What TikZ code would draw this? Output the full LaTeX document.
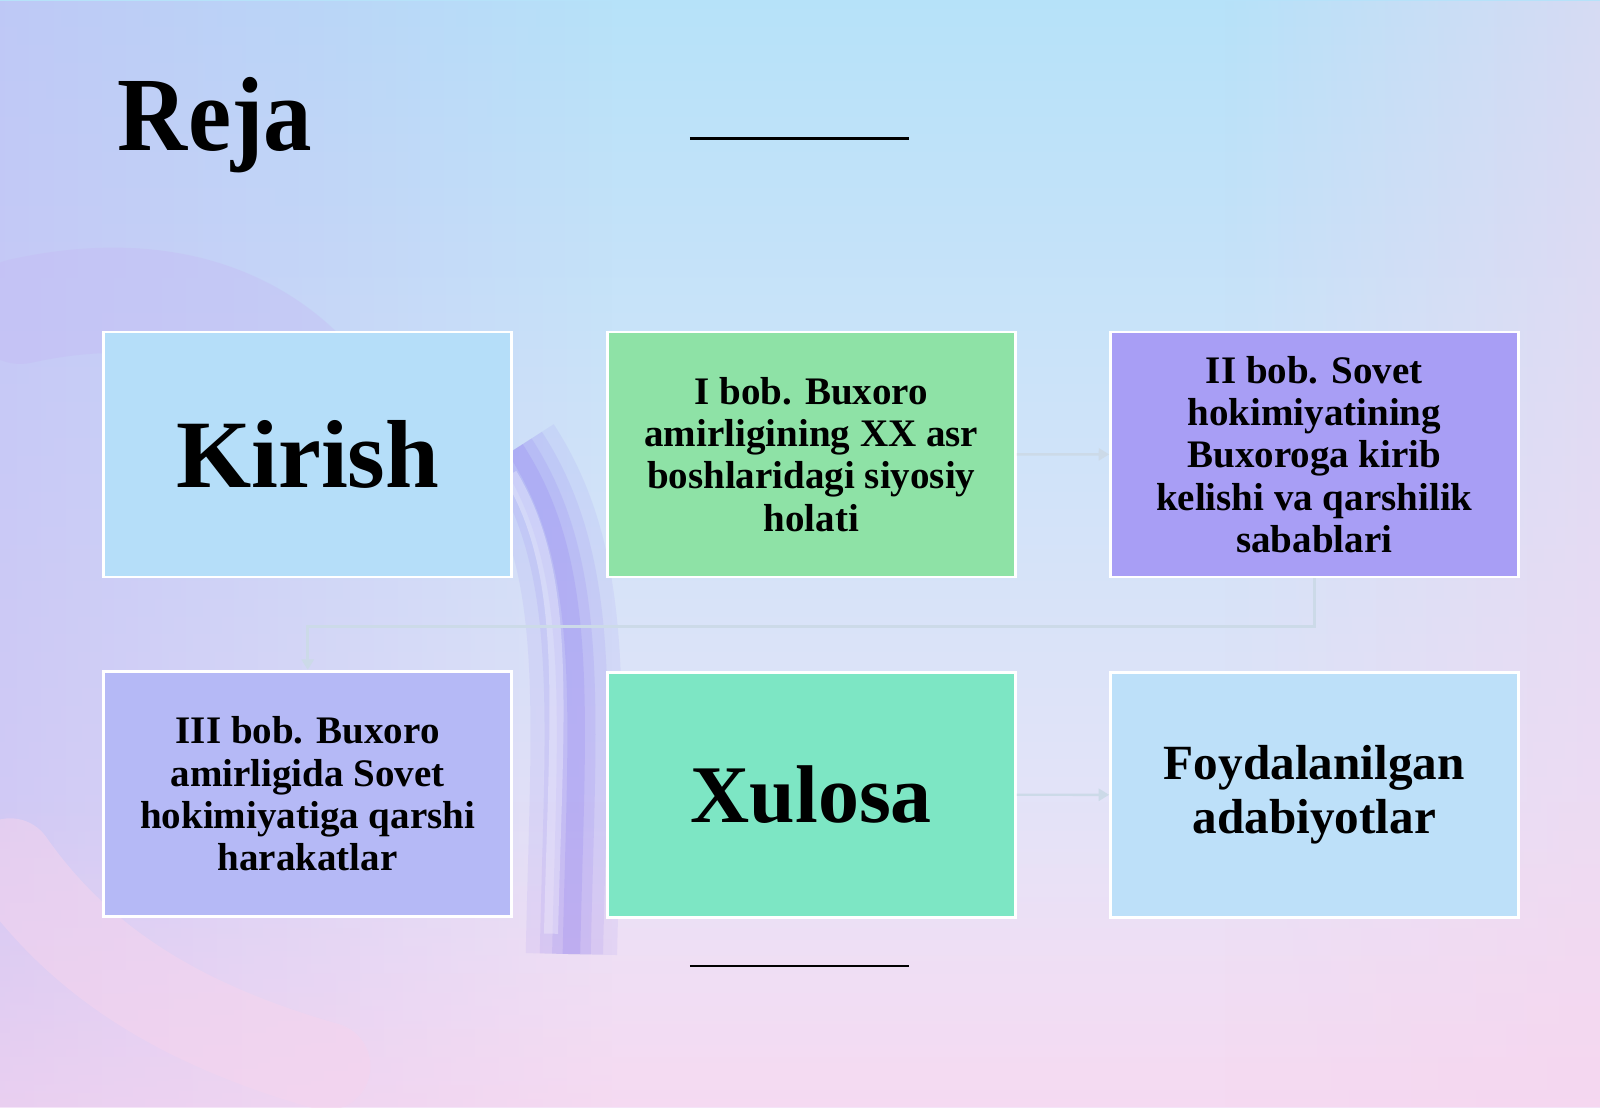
\documentclass[tikz,border=0pt]{standalone}
\usepackage{fontspec}
\setmainfont{Liberation Serif}
\usetikzlibrary {positioning}
\usetikzlibrary {arrows.meta}
\usetikzlibrary {fadings}

\definecolor{bgtop}{HTML}{B6E2F9}
\definecolor{bgbot}{HTML}{F4E4F8}
\definecolor{bglav}{HTML}{C4B8F4}
\definecolor{bgpink}{HTML}{F6D4EE}
\definecolor{swirl}{HTML}{8A78F0}
\definecolor{kirishc}{HTML}{B5DEF9}
\definecolor{bobIc}{HTML}{8EE2A6}
\definecolor{bobIIc}{HTML}{A89EF5}
\definecolor{bobIIIc}{HTML}{B5B9F6}
\definecolor{xulosac}{HTML}{7DE6C4}
\definecolor{adabc}{HTML}{BDE0F9}
\definecolor{linkc}{HTML}{CCDAE8}

\tikzset{
  bobbox/.style = {rectangle, draw=white, line width=0.8pt, minimum width=4.08cm, minimum height=2.45cm, align=center, font=\bfseries\fontsize{11.1}{12}\selectfont},
  bigbox/.style = {bobbox, font=\bfseries\fontsize{27.5}{30}\selectfont},
  link/.style = {linkc, line width=0.7pt, -{Triangle[angle=60:1.2mm]}}
}

\begin{document}
\begin{tikzpicture}[scale=1.0204]

            % \draw [help lines] (0,0) grid (16,11);

            \useasboundingbox (0,0) rectangle (15.68,10.85);
            \shade [top color=bgtop, bottom color=bgbot] (0,0) rectangle (15.68,10.85);
            \fill [bglav, path fading=east, opacity=0.6] (0,0) rectangle (6,10.85);
            \fill [bgpink, path fading=north, opacity=0.6] (0,0) rectangle (15.68,3);
            \fill [bgpink, path fading=west, opacity=0.5] (12,0) rectangle (15.68,10.85);

            % swirl behind the boxes
            \foreach \w/\o in {26pt/0.10, 18pt/0.12, 11pt/0.15, 5pt/0.2}
              \draw [swirl, line width=\w, opacity=\o] (5.05,6.45) .. controls (5.8,5.3) and (5.65,3.9) .. (5.6,1.5);
            \draw [white, line width=4pt, opacity=0.3] (5.0,6.2) .. controls (5.6,5.2) and (5.45,3.9) .. (5.4,1.7);
            \draw [bglav, line width=30pt, opacity=0.35, line cap=round] (0.2,7.8) .. controls (2.0,8.2) and (3.0,7.4) .. (3.4,6.6);
            \draw [bgpink, line width=25pt, opacity=0.5, line cap=round] (0.1,2.4) .. controls (0.8,1.4) and (1.8,0.8) .. (3.2,0.4);

            \path   (3.015,6.395) node (kirish) [bigbox, fill=kirishc] {Kirish}
                    (7.95,6.395) node (bobI) [bobbox, fill=bobIc] {I bob. Buxoro\\amirligining XX asr\\boshlaridagi siyosiy\\holati}
                    (12.88,6.395) node (bobII) [bobbox, fill=bobIIc] {II bob. Sovet\\hokimiyatining\\Buxoroga kirib\\kelishi va qarshilik\\sabablari}
                    (3.015,3.07) node (bobIII) [bobbox, fill=bobIIIc] {III bob. Buxoro\\amirligida Sovet\\hokimiyatiga qarshi\\harakatlar}
                    (7.95,3.06) node (xulosa) [bigbox, fill=xulosac, font=\bfseries\fontsize{23.3}{25}\selectfont] {Xulosa}
                    (12.88,3.06) node (adab) [bobbox, fill=adabc, font=\bfseries\fontsize{14}{15.2}\selectfont] {Foydalanilgan\\adabiyotlar};

            \draw[link] (bobI) -- (bobII);
            \draw[link] (xulosa) -- (adab);
            \draw[link] (bobII.south) -- ++(0,-0.47) -| (bobIII.north);

            \node [anchor=base west, inner sep=0pt, font=\bfseries\fontsize{30}{32}\selectfont, xscale=0.92] (reja) at (1.15,9.37) {Reja};

            \coordinate (topA) at (6.76,9.49);
            \coordinate (topB) at (8.91,9.49);
            \coordinate (botA) at (6.76,1.38);
            \coordinate (botB) at (8.91,1.38);
            \draw [line width=0.6pt] (topA) -- (topB);
            \draw [line width=0.6pt] (botA) -- (botB);

\end{tikzpicture}
\end{document}
